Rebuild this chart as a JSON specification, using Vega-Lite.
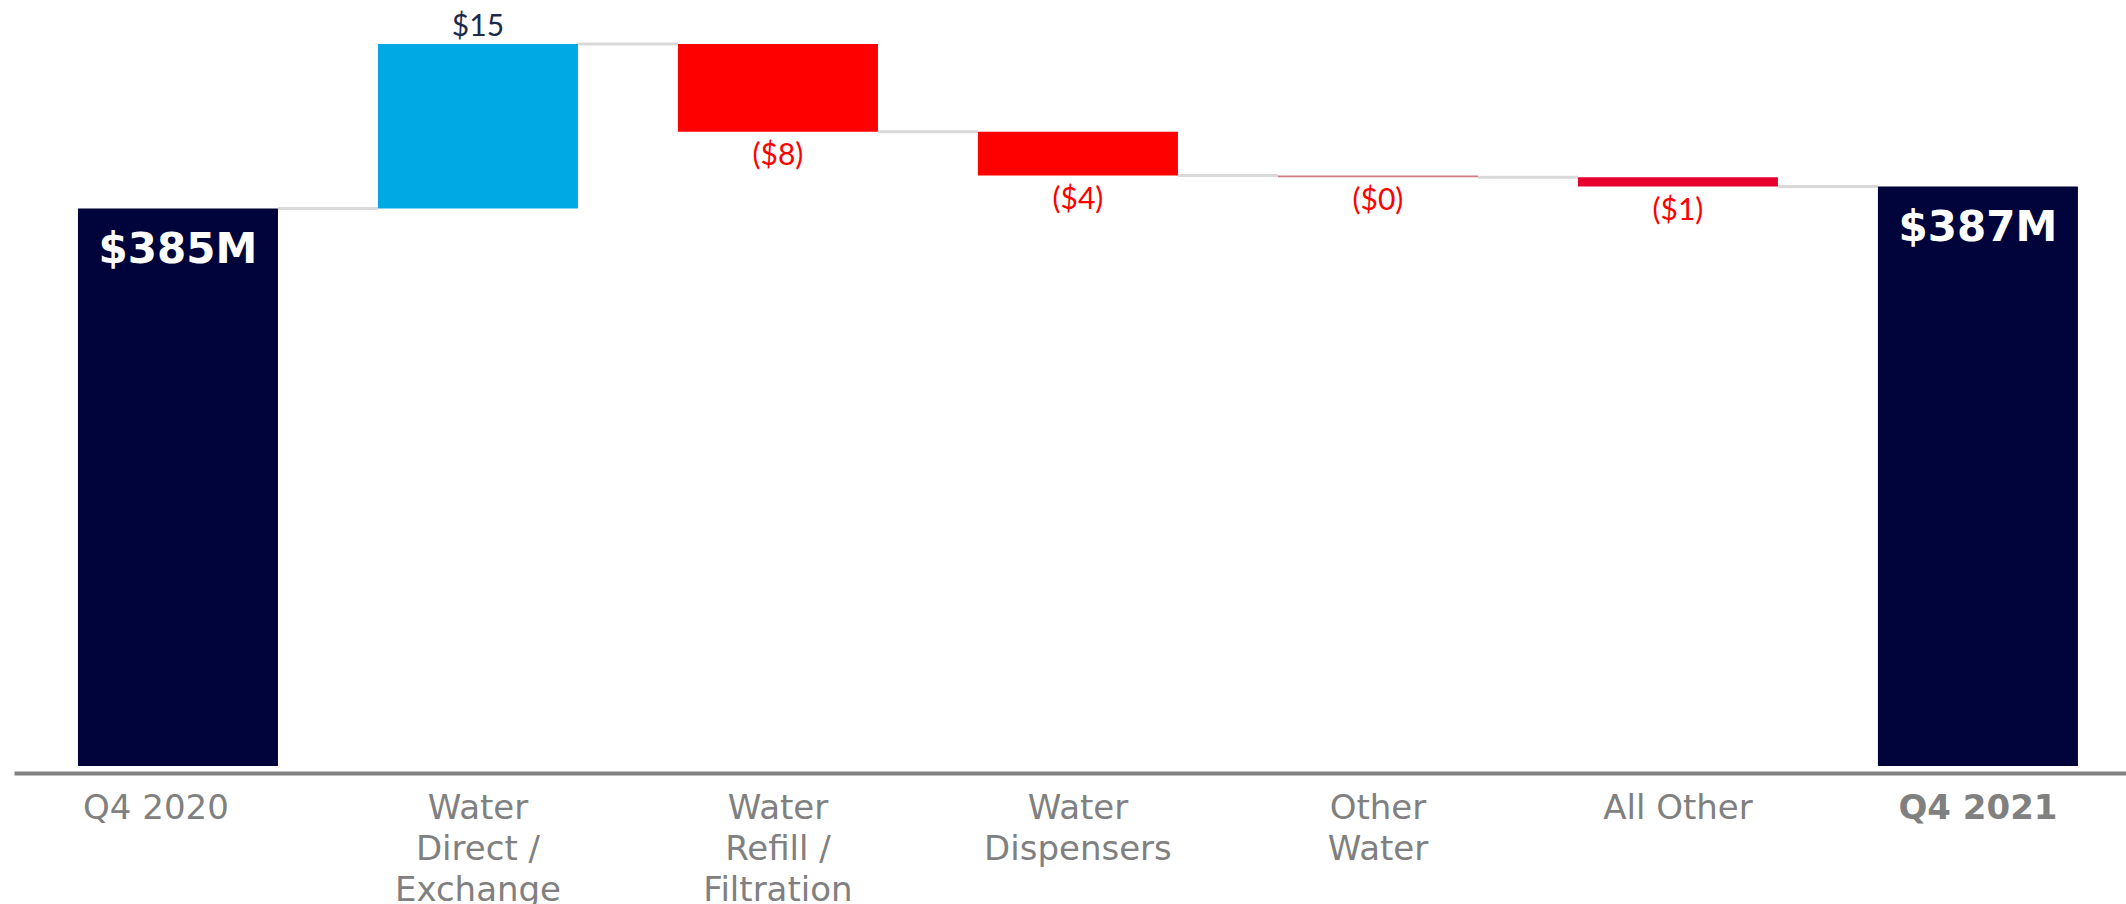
{
  "$schema": "https://vega.github.io/schema/vega-lite/v6.json",
  "width": 2112,
  "height": 766,
  "autosize": {"type": "none"},
  "padding": {"left": 14, "top": 0, "right": 0, "bottom": 138},
  "background": "white",
  "config": {"view": {"stroke": null}},
  "data": {
    "values": [
      {"cat": "Q4 2020", "kind": "total", "start": null, "end": 385, "next": "Water\nDirect /\nExchange", "label": "$385M"},
      {"cat": "Water\nDirect /\nExchange", "kind": "increase", "start": 385, "end": 400, "next": "Water\nRefill /\nFiltration", "label": "$15"},
      {"cat": "Water\nRefill /\nFiltration", "kind": "decrease", "start": 400, "end": 392, "next": "Water\nDispensers", "label": "($8)"},
      {"cat": "Water\nDispensers", "kind": "decrease", "start": 392, "end": 388, "next": "Other\nWater", "label": "($4)"},
      {"cat": "Other\nWater", "kind": "decrease", "start": 388, "end": 387.85, "next": "All Other", "label": "($0)"},
      {"cat": "All Other", "kind": "decrease", "start": 387.85, "end": 387, "next": "Q4 2021", "label": "($1)"},
      {"cat": "Q4 2021", "kind": "total", "start": null, "end": 387, "next": null, "label": "$387M"}
    ]
  },
  "encoding": {
    "x": {
      "field": "cat",
      "type": "nominal",
      "sort": null,
      "scale": {"paddingInner": 0.3333, "paddingOuter": 0.1867, "align": 0.571},
      "axis": {
        "title": null,
        "labelAngle": 0,
        "ticks": false,
        "offset": 7,
        "domainColor": "#808080",
        "domainWidth": 4,
        "labelFont": "DejaVu Sans",
        "labelFontSize": 34,
        "labelColor": "#808080",
        "labelLineHeight": 41,
        "labelPadding": 18,
        "labelLimit": 0,
        "labelOverlap": false,
        "labelBound": false,
        "labelExpr": "split(datum.label, '\\n')",
        "labelOffset": {"condition": {"test": "datum.value === 'Q4 2020'", "value": -22}, "value": 0},
        "labelFontWeight": {"condition": {"test": "datum.value === 'Q4 2021'", "value": "bold"}, "value": "normal"}
      }
    }
  },
  "layer": [
    {
      "transform": [{"filter": "datum.next != null"}],
      "mark": {"type": "rule", "color": "#D9D9D9", "strokeWidth": 3, "xOffset": 100, "x2Offset": -100},
      "encoding": {
        "x2": {"field": "next"},
        "y": {"field": "end", "type": "quantitative", "scale": {"domain": [334.2, 404], "zero": false, "nice": false}, "axis": null}
      }
    },
    {
      "transform": [{"filter": "datum.kind !== 'total'"}],
      "mark": {"type": "bar"},
      "encoding": {
        "y": {"field": "start", "type": "quantitative", "scale": {"domain": [334.2, 404], "zero": false, "nice": false}, "axis": null},
        "y2": {"field": "end"},
        "color": {
          "field": "cat",
          "type": "nominal",
          "legend": null,
          "scale": {
            "domain": ["Q4 2020", "Water\nDirect /\nExchange", "Water\nRefill /\nFiltration", "Water\nDispensers", "Other\nWater", "All Other", "Q4 2021"],
            "range": ["#00043A", "#00A9E3", "#FF0000", "#FF0000", "#D27A84", "#E8002D", "#00043A"]
          }
        }
      }
    },
    {
      "transform": [{"filter": "datum.kind === 'total'"}],
      "mark": {"type": "bar", "clip": true},
      "encoding": {
        "y": {"field": "end", "type": "quantitative", "scale": {"domain": [334.2, 404], "zero": false, "nice": false}, "axis": null},
        "color": {"field": "cat", "type": "nominal", "legend": null}
      }
    },
    {
      "transform": [{"filter": "datum.kind === 'total'"}],
      "mark": {"type": "text", "font": "DejaVu Sans", "fontSize": 42, "fontWeight": "bold", "color": "white", "baseline": "alphabetic", "align": "center", "dy": 54},
      "encoding": {
        "y": {"field": "end", "type": "quantitative", "scale": {"domain": [334.2, 404], "zero": false, "nice": false}, "axis": null},
        "text": {"field": "label"}
      }
    },
    {
      "transform": [{"filter": "datum.kind === 'increase'"}],
      "mark": {"type": "text", "font": "Lato", "fontSize": 30, "color": "#1C2B4B", "baseline": "alphabetic", "align": "center", "dy": -8},
      "encoding": {
        "y": {"field": "end", "type": "quantitative", "scale": {"domain": [334.2, 404], "zero": false, "nice": false}, "axis": null},
        "text": {"field": "label"}
      }
    },
    {
      "transform": [{"filter": "datum.kind === 'decrease'"}],
      "mark": {"type": "text", "font": "Lato", "fontSize": 30, "color": "#FF0000", "baseline": "alphabetic", "align": "center", "dy": 33},
      "encoding": {
        "y": {"field": "end", "type": "quantitative", "scale": {"domain": [334.2, 404], "zero": false, "nice": false}, "axis": null},
        "text": {"field": "label"}
      }
    }
  ]
}
